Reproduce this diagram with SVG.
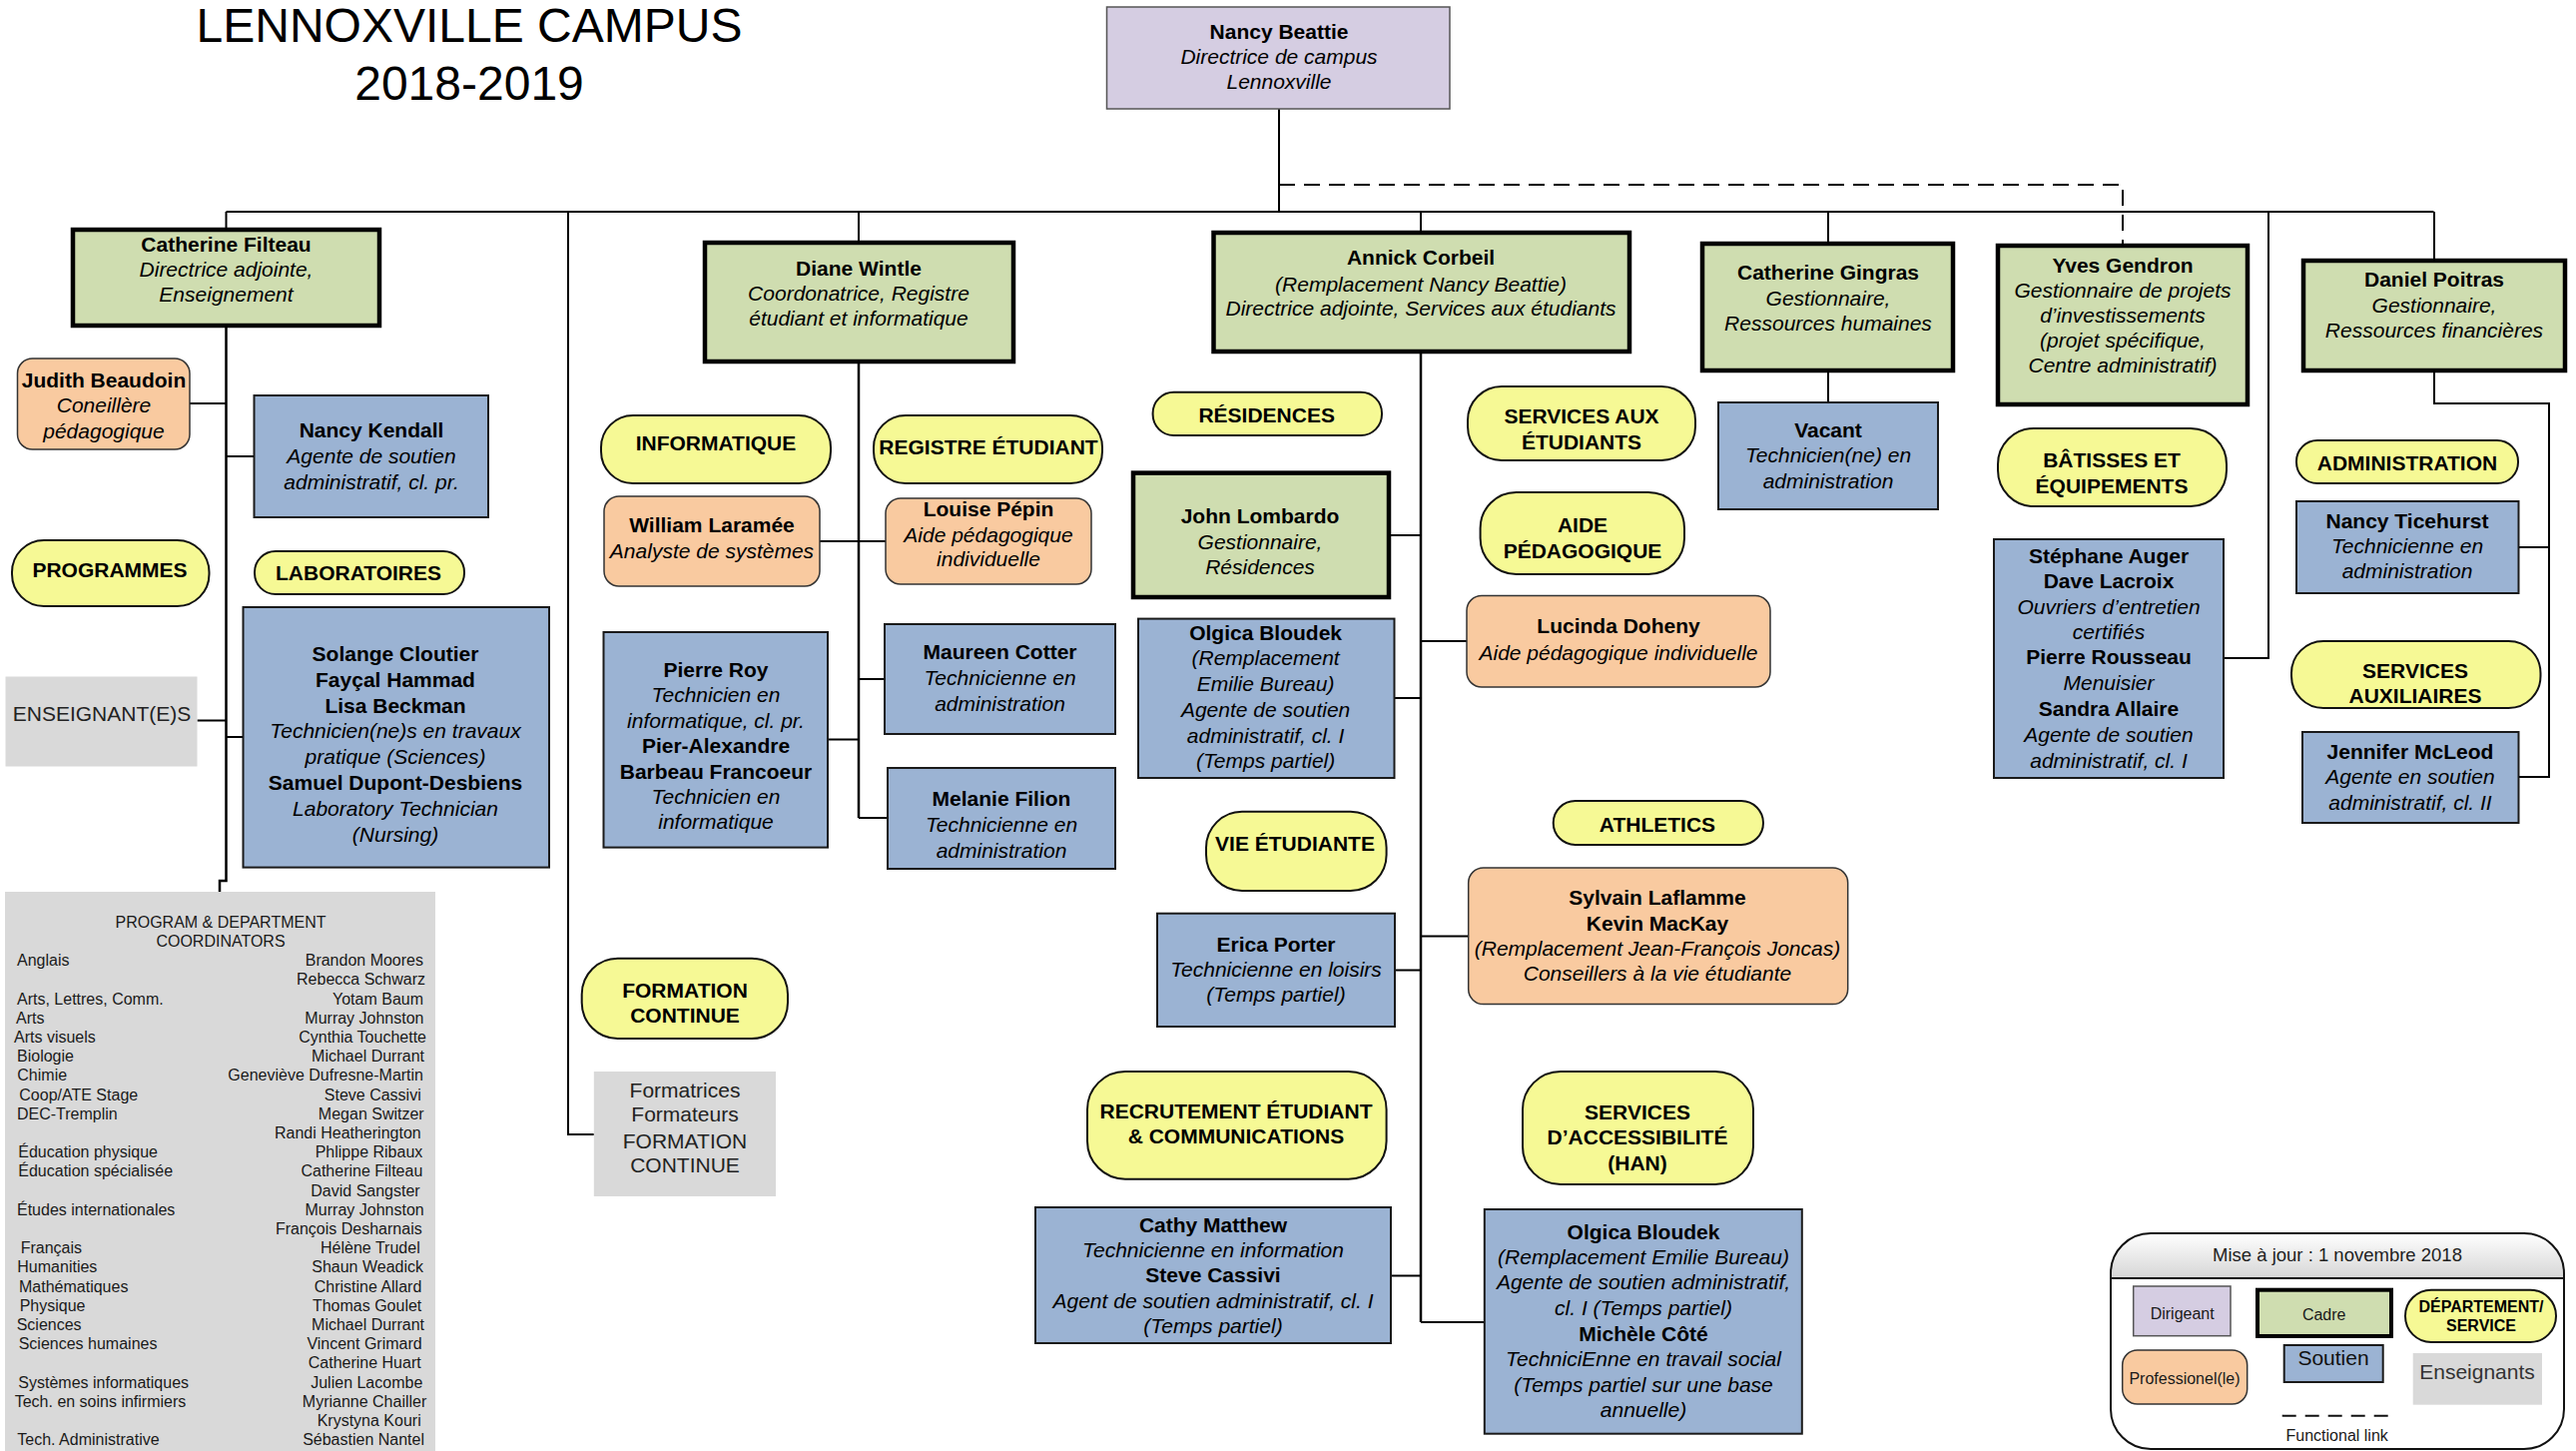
<svg xmlns="http://www.w3.org/2000/svg" width="2580" height="1453" viewBox="0 0 2580 1453">
<defs>
<style>
text{font-family:"Liberation Sans",Arial,sans-serif;font-size:21px;text-anchor:middle;fill:#000}
.b{font-weight:bold}
.i{font-style:italic}
.t{font-size:48px}
.s{font-size:16px;fill:#1a1a1a}
.sl{font-size:16px;fill:#1a1a1a;text-anchor:start}
.sr{font-size:16px;fill:#1a1a1a;text-anchor:end}
.g{fill:#222}
.dir{fill:#d5cde2;stroke:#555;stroke-width:1.5}
.cad{fill:#cfddb0;stroke:#000;stroke-width:4.5}
.sou{fill:#9bb3d3;stroke:#1a1a1a;stroke-width:2}
.pro{fill:#f9caa0;stroke:#333;stroke-width:1.5}
.dep{fill:#f6f995;stroke:#111;stroke-width:2}
.ens{fill:#d9d9d9}
.ln{stroke:#000;stroke-width:2;fill:none}
.lt{stroke:#000;stroke-width:2.5;fill:none}
.dash{stroke:#000;stroke-width:2;fill:none;stroke-dasharray:16 9}
</style>
<linearGradient id="hdr" x1="0" y1="0" x2="0" y2="1">
<stop offset="0" stop-color="#ffffff"/>
<stop offset="1" stop-color="#d6d6d6"/>
</linearGradient>
</defs>
<rect width="2580" height="1453" fill="#fff"/>

<g id="title">
<text class="t" x="470" y="42">LENNOXVILLE CAMPUS</text>
<text class="t" x="470" y="100">2018-2019</text>
</g>

<g id="connectors">
<path class="ln" d="M1281 109V212"/>
<path class="ln" d="M226.5 212H2437.5"/>
<path class="ln" d="M226.5 212V230"/>
<path class="lt" d="M226.5 326V882H220V893"/>
<path class="ln" d="M190 404H226.5"/>
<path class="ln" d="M226.5 457H254.5"/>
<path class="ln" d="M226.5 738H243.5"/>
<path class="ln" d="M197.5 721.5H226.5"/>
<path class="ln" d="M569 212V1136H594.8"/>
<path class="ln" d="M860 212V243"/>
<path class="lt" d="M860 362V819"/>
<path class="ln" d="M821 542H887"/>
<path class="ln" d="M829 740.5H860"/>
<path class="ln" d="M860 680H886"/>
<path class="ln" d="M860 819H889"/>
<path class="ln" d="M1423 212V233"/>
<path class="lt" d="M1423 352V1324"/>
<path class="ln" d="M1391 536H1423"/>
<path class="ln" d="M1396.5 699H1423"/>
<path class="ln" d="M1397 971.5H1423"/>
<path class="ln" d="M1393 1277.5H1423"/>
<path class="ln" d="M1423 642H1469"/>
<path class="ln" d="M1423 937.4H1470.7"/>
<path class="ln" d="M1423 1324H1486.8"/>
<path class="ln" d="M1831 212V244"/>
<path class="ln" d="M1831 371V403"/>
<path class="ln" d="M2272 212V659H2227"/>
<path class="ln" d="M2438 212V261"/>
<path class="ln" d="M2438 371V404H2553V778H2522.5"/>
<path class="ln" d="M2553 548H2522.5"/>
<path class="dash" d="M1281 185H2126V246"/>
</g>

<g id="nancy-beattie">
<rect class="dir" x="1108.5" y="7" width="343.5" height="102"/>
<text x="1281"><tspan class="b" x="1281" y="39">Nancy Beattie</tspan><tspan class="i" x="1281" y="64">Directrice de campus</tspan><tspan class="i" x="1281" y="89">Lennoxville</tspan></text>
</g>

<g id="catherine-filteau">
<rect class="cad" x="73" y="230" width="307" height="96"/>
<text><tspan class="b" x="226.5" y="252">Catherine Filteau</tspan><tspan class="i" x="226.5" y="277">Directrice adjointe,</tspan><tspan class="i" x="226.5" y="302">Enseignement</tspan></text>
</g>

<g id="diane-wintle">
<rect class="cad" x="706" y="243" width="309" height="119"/>
<text><tspan class="b" x="860" y="276">Diane Wintle</tspan><tspan class="i" x="860" y="301">Coordonatrice, Registre</tspan><tspan class="i" x="860" y="326">étudiant et informatique</tspan></text>
</g>

<g id="annick-corbeil">
<rect class="cad" x="1215.5" y="233" width="416.5" height="119"/>
<text><tspan class="b" x="1423" y="265">Annick Corbeil</tspan><tspan class="i" x="1423" y="292">(Remplacement Nancy Beattie)</tspan><tspan class="i" x="1423" y="316">Directrice adjointe, Services aux étudiants</tspan></text>
</g>

<g id="catherine-gingras">
<rect class="cad" x="1705" y="244" width="251" height="127"/>
<text><tspan class="b" x="1831" y="280">Catherine Gingras</tspan><tspan class="i" x="1831" y="306">Gestionnaire,</tspan><tspan class="i" x="1831" y="331">Ressources humaines</tspan></text>
</g>

<g id="yves-gendron">
<rect class="cad" x="2001" y="246" width="250" height="159"/>
<text><tspan class="b" x="2126" y="273">Yves Gendron</tspan><tspan class="i" x="2126" y="298">Gestionnaire de projets</tspan><tspan class="i" x="2126" y="323">d’investissements</tspan><tspan class="i" x="2126" y="348">(projet spécifique,</tspan><tspan class="i" x="2126" y="373">Centre administratif)</tspan></text>
</g>

<g id="daniel-poitras">
<rect class="cad" x="2307" y="261" width="262" height="110"/>
<text><tspan class="b" x="2438" y="287">Daniel Poitras</tspan><tspan class="i" x="2438" y="313">Gestionnaire,</tspan><tspan class="i" x="2438" y="338">Ressources financières</tspan></text>
</g>

<g id="judith-beaudoin">
<rect class="pro" x="17.5" y="359" width="172.5" height="91" rx="15"/>
<text><tspan class="b" x="104" y="388">Judith Beaudoin</tspan><tspan class="i" x="104" y="413">Coneillère</tspan><tspan class="i" x="104" y="439">pédagogique</tspan></text>
</g>

<g id="nancy-kendall">
<rect class="sou" x="254.5" y="396" width="234.5" height="122"/>
<text><tspan class="b" x="372" y="438">Nancy Kendall</tspan><tspan class="i" x="372" y="464">Agente de soutien</tspan><tspan class="i" x="372" y="490">administratif, cl. pr.</tspan></text>
</g>

<g id="programmes">
<rect class="dep" x="12" y="541" width="197.5" height="66" rx="32"/>
<text class="b" x="110" y="578">PROGRAMMES</text>
</g>

<g id="laboratoires">
<rect class="dep" x="255" y="552" width="210" height="43" rx="21"/>
<text class="b" x="359" y="581">LABORATOIRES</text>
</g>

<g id="laboratoires-staff">
<rect class="sou" x="243.5" y="608" width="306.5" height="260.6"/>
<text><tspan class="b" x="396" y="662">Solange Cloutier</tspan><tspan class="b" x="396" y="688">Fayçal Hammad</tspan><tspan class="b" x="396" y="714">Lisa Beckman</tspan><tspan class="i" x="396" y="739">Technicien(ne)s en travaux</tspan><tspan class="i" x="396" y="765">pratique (Sciences)</tspan><tspan class="b" x="396" y="791">Samuel Dupont-Desbiens</tspan><tspan class="i" x="396" y="817">Laboratory Technician</tspan><tspan class="i" x="396" y="843">(Nursing)</tspan></text>
</g>

<g id="enseignants">
<rect class="ens" x="5.5" y="677.5" width="192" height="90"/>
<text class="g" x="102" y="722">ENSEIGNANT(E)S</text>
</g>

<g id="program-coordinators">
<rect class="ens" x="5" y="893" width="431" height="560"/>
<text class="s" x="221" y="929">PROGRAM &amp; DEPARTMENT</text>
<text class="s" x="221" y="948">COORDINATORS</text>
<text class="sl" x="17" y="967">Anglais</text>
<text class="sr" x="424" y="967">Brandon Moores</text>
<text class="sr" x="426" y="986">Rebecca Schwarz</text>
<text class="sl" x="17" y="1006">Arts, Lettres, Comm.</text>
<text class="sr" x="424" y="1006">Yotam Baum</text>
<text class="sl" x="16" y="1025">Arts</text>
<text class="sr" x="424.5" y="1025">Murray Johnston</text>
<text class="sl" x="14" y="1044">Arts visuels</text>
<text class="sr" x="427" y="1044">Cynthia Touchette</text>
<text class="sl" x="17" y="1063">Biologie</text>
<text class="sr" x="425" y="1063">Michael Durrant</text>
<text class="sl" x="17.3" y="1082">Chimie</text>
<text class="sr" x="424" y="1082">Geneviève Dufresne-Martin</text>
<text class="sl" x="19.3" y="1102">Coop/ATE Stage</text>
<text class="sr" x="421.7" y="1102">Steve Cassivi</text>
<text class="sl" x="17" y="1121">DEC-Tremplin</text>
<text class="sr" x="424.7" y="1121">Megan Switzer</text>
<text class="sr" x="421.7" y="1140">Randi Heatherington</text>
<text class="sl" x="18.3" y="1159">Éducation physique</text>
<text class="sr" x="423.3" y="1159">Phlippe Ribaux</text>
<text class="sl" x="18.3" y="1178">Éducation spécialisée</text>
<text class="sr" x="423.3" y="1178">Catherine Filteau</text>
<text class="sr" x="420.7" y="1198">David Sangster</text>
<text class="sl" x="17" y="1217">Études internationales</text>
<text class="sr" x="424.7" y="1217">Murray Johnston</text>
<text class="sr" x="422.7" y="1236">François Desharnais</text>
<text class="sl" x="20.7" y="1255">Français</text>
<text class="sr" x="420.7" y="1255">Hélène Trudel</text>
<text class="sl" x="17.3" y="1274">Humanities</text>
<text class="sr" x="424" y="1274">Shaun Weadick</text>
<text class="sl" x="19" y="1294">Mathématiques</text>
<text class="sr" x="422.3" y="1294">Christine Allard</text>
<text class="sl" x="19.7" y="1313">Physique</text>
<text class="sr" x="422.3" y="1313">Thomas Goulet</text>
<text class="sl" x="16.7" y="1332">Sciences</text>
<text class="sr" x="425" y="1332">Michael Durrant</text>
<text class="sl" x="18.7" y="1351">Sciences humaines</text>
<text class="sr" x="422.7" y="1351">Vincent Grimard</text>
<text class="sr" x="421.7" y="1370">Catherine Huart</text>
<text class="sl" x="18.3" y="1390">Systèmes informatiques</text>
<text class="sr" x="423.3" y="1390">Julien Lacombe</text>
<text class="sl" x="14.7" y="1409">Tech. en soins infirmiers</text>
<text class="sr" x="427.3" y="1409">Myrianne Chailler</text>
<text class="sr" x="421.7" y="1428">Krystyna Kouri</text>
<text class="sl" x="17.3" y="1447">Tech. Administrative</text>
<text class="sr" x="425" y="1447">Sébastien Nantel</text>
</g>

<g id="formation-continue">
<rect class="dep" x="582.7" y="959.7" width="206.3" height="80.3" rx="36"/>
<text class="b"><tspan x="686" y="999">FORMATION</tspan><tspan x="686" y="1024.4">CONTINUE</tspan></text>
</g>

<g id="formatrices">
<rect class="ens" x="594.8" y="1073" width="182.2" height="125"/>
<text class="g"><tspan x="686" y="1098.6">Formatrices</tspan><tspan x="686" y="1123">Formateurs</tspan><tspan x="686" y="1149.7">FORMATION</tspan><tspan x="686" y="1174">CONTINUE</tspan></text>
</g>

<g id="informatique">
<rect class="dep" x="602" y="416" width="230" height="68" rx="32"/>
<text class="b" x="717" y="451">INFORMATIQUE</text>
</g>

<g id="william-laramee">
<rect class="pro" x="605" y="497" width="216" height="90" rx="15"/>
<text><tspan class="b" x="713" y="533">William Laramée</tspan><tspan class="i" x="713" y="559">Analyste de systèmes</tspan></text>
</g>

<g id="pierre-roy">
<rect class="sou" x="604.5" y="633" width="224.5" height="215.6"/>
<text><tspan class="b" x="717" y="677.5">Pierre Roy</tspan><tspan class="i" x="717" y="703">Technicien en</tspan><tspan class="i" x="717" y="728.5">informatique, cl. pr.</tspan><tspan class="b" x="717" y="754">Pier-Alexandre</tspan><tspan class="b" x="717" y="779.5">Barbeau Francoeur</tspan><tspan class="i" x="717" y="805">Technicien en</tspan><tspan class="i" x="717" y="830">informatique</tspan></text>
</g>

<g id="registre-etudiant">
<rect class="dep" x="875" y="416" width="229" height="68" rx="32"/>
<text class="b" x="990" y="455">REGISTRE ÉTUDIANT</text>
</g>

<g id="louise-pepin">
<rect class="pro" x="887" y="499" width="206" height="86" rx="15"/>
<text><tspan class="b" x="990" y="517">Louise Pépin</tspan><tspan class="i" x="990" y="543">Aide pédagogique</tspan><tspan class="i" x="990" y="567">individuelle</tspan></text>
</g>

<g id="maureen-cotter">
<rect class="sou" x="886" y="625" width="231" height="110"/>
<text><tspan class="b" x="1001.5" y="660">Maureen Cotter</tspan><tspan class="i" x="1001.5" y="686">Technicienne en</tspan><tspan class="i" x="1001.5" y="712">administration</tspan></text>
</g>

<g id="melanie-filion">
<rect class="sou" x="889" y="769" width="228" height="101"/>
<text><tspan class="b" x="1003" y="807">Melanie Filion</tspan><tspan class="i" x="1003" y="833">Technicienne en</tspan><tspan class="i" x="1003" y="859">administration</tspan></text>
</g>

<g id="residences">
<rect class="dep" x="1154.6" y="392.7" width="229.4" height="43.3" rx="21"/>
<text class="b" x="1268.7" y="422.6">RÉSIDENCES</text>
</g>

<g id="john-lombardo">
<rect class="cad" x="1135" y="473.6" width="256" height="124.4"/>
<text><tspan class="b" x="1262" y="524">John Lombardo</tspan><tspan class="i" x="1262" y="550">Gestionnaire,</tspan><tspan class="i" x="1262" y="575">Résidences</tspan></text>
</g>

<g id="olgica-bloudek-1">
<rect class="sou" x="1140" y="619.6" width="256.5" height="159.4"/>
<text><tspan class="b" x="1267.6" y="641">Olgica Bloudek</tspan><tspan class="i" x="1267.6" y="666">(Remplacement</tspan><tspan class="i" x="1267.6" y="692">Emilie Bureau)</tspan><tspan class="i" x="1267.6" y="718">Agente de soutien</tspan><tspan class="i" x="1267.6" y="744">administratif, cl. I</tspan><tspan class="i" x="1267.6" y="769">(Temps partiel)</tspan></text>
</g>

<g id="vie-etudiante">
<rect class="dep" x="1208" y="812.8" width="180.6" height="79.2" rx="36"/>
<text class="b" x="1297" y="852.4">VIE ÉTUDIANTE</text>
</g>

<g id="erica-porter">
<rect class="sou" x="1159" y="914.7" width="238" height="113.3"/>
<text><tspan class="b" x="1278" y="952.6">Erica Porter</tspan><tspan class="i" x="1278" y="977.8">Technicienne en loisirs</tspan><tspan class="i" x="1278" y="1003">(Temps partiel)</tspan></text>
</g>

<g id="recrutement">
<rect class="dep" x="1089" y="1073" width="299.6" height="107.7" rx="38"/>
<text class="b"><tspan x="1238" y="1120">RECRUTEMENT ÉTUDIANT</tspan><tspan x="1238" y="1144.5">&amp; COMMUNICATIONS</tspan></text>
</g>

<g id="cathy-matthew">
<rect class="sou" x="1037" y="1209" width="356" height="136"/>
<text><tspan class="b" x="1215" y="1234">Cathy Matthew</tspan><tspan class="i" x="1215" y="1259">Technicienne en information</tspan><tspan class="b" x="1215" y="1284">Steve Cassivi</tspan><tspan class="i" x="1215" y="1309.5">Agent de soutien administratif, cl. I</tspan><tspan class="i" x="1215" y="1335">(Temps partiel)</tspan></text>
</g>

<g id="services-aux-etudiants">
<rect class="dep" x="1470" y="387" width="228" height="74" rx="34"/>
<text class="b"><tspan x="1584" y="424">SERVICES AUX</tspan><tspan x="1584" y="450">ÉTUDIANTS</tspan></text>
</g>

<g id="aide-pedagogique">
<rect class="dep" x="1482.6" y="493" width="204.4" height="82" rx="36"/>
<text class="b"><tspan x="1585" y="533">AIDE</tspan><tspan x="1585" y="558.7">PÉDAGOGIQUE</tspan></text>
</g>

<g id="lucinda-doheny">
<rect class="pro" x="1469" y="596.5" width="304" height="91.5" rx="15"/>
<text><tspan class="b" x="1621" y="634.4">Lucinda Doheny</tspan><tspan class="i" x="1621" y="661">Aide pédagogique individuelle</tspan></text>
</g>

<g id="athletics">
<rect class="dep" x="1555.7" y="802" width="210.3" height="44" rx="22"/>
<text class="b" x="1660" y="833">ATHLETICS</text>
</g>

<g id="sylvain-laflamme">
<rect class="pro" x="1470.7" y="869" width="380" height="136.6" rx="15"/>
<text><tspan class="b" x="1660" y="906">Sylvain Laflamme</tspan><tspan class="b" x="1660" y="931.5">Kevin MacKay</tspan><tspan class="i" x="1660" y="957">(Remplacement Jean-François Joncas)</tspan><tspan class="i" x="1660" y="982">Conseillers à la vie étudiante</tspan></text>
</g>

<g id="services-accessibilite">
<rect class="dep" x="1525" y="1073" width="231" height="113" rx="38"/>
<text class="b"><tspan x="1640" y="1121">SERVICES</tspan><tspan x="1640" y="1146">D’ACCESSIBILITÉ</tspan><tspan x="1640" y="1172">(HAN)</tspan></text>
</g>

<g id="olgica-bloudek-2">
<rect class="sou" x="1486.8" y="1211" width="318" height="224.7"/>
<text><tspan class="b" x="1646" y="1241">Olgica Bloudek</tspan><tspan class="i" x="1646" y="1266">(Remplacement Emilie Bureau)</tspan><tspan class="i" x="1646" y="1291.4">Agente de soutien administratif,</tspan><tspan class="i" x="1646" y="1316.6">cl. I (Temps partiel)</tspan><tspan class="b" x="1646" y="1343">Michèle Côté</tspan><tspan class="i" x="1646" y="1368">TechniciEnne en travail social</tspan><tspan class="i" x="1646" y="1393.6">(Temps partiel sur une base</tspan><tspan class="i" x="1646" y="1419">annuelle)</tspan></text>
</g>

<g id="vacant">
<rect class="sou" x="1721" y="403" width="220" height="107"/>
<text><tspan class="b" x="1831" y="438">Vacant</tspan><tspan class="i" x="1831" y="463">Technicien(ne) en</tspan><tspan class="i" x="1831" y="489">administration</tspan></text>
</g>

<g id="batisses-equipements">
<rect class="dep" x="2001" y="429" width="229" height="78" rx="36"/>
<text class="b"><tspan x="2115" y="468">BÂTISSES ET</tspan><tspan x="2115" y="494">ÉQUIPEMENTS</tspan></text>
</g>

<g id="stephane-auger">
<rect class="sou" x="1997" y="540" width="230" height="239"/>
<text><tspan class="b" x="2112" y="564">Stéphane Auger</tspan><tspan class="b" x="2112" y="589">Dave Lacroix</tspan><tspan class="i" x="2112" y="615">Ouvriers d’entretien</tspan><tspan class="i" x="2112" y="640">certifiés</tspan><tspan class="b" x="2112" y="665">Pierre Rousseau</tspan><tspan class="i" x="2112" y="691">Menuisier</tspan><tspan class="b" x="2112" y="717">Sandra Allaire</tspan><tspan class="i" x="2112" y="743">Agente de soutien</tspan><tspan class="i" x="2112" y="769">administratif, cl. I</tspan></text>
</g>

<g id="administration">
<rect class="dep" x="2300" y="441" width="222" height="43" rx="21"/>
<text class="b" x="2411" y="471">ADMINISTRATION</text>
</g>

<g id="nancy-ticehurst">
<rect class="sou" x="2300" y="502" width="222.5" height="92"/>
<text><tspan class="b" x="2411" y="529">Nancy Ticehurst</tspan><tspan class="i" x="2411" y="554">Technicienne en</tspan><tspan class="i" x="2411" y="579">administration</tspan></text>
</g>

<g id="services-auxiliaires">
<rect class="dep" x="2295" y="642" width="249.5" height="67" rx="32"/>
<text class="b"><tspan x="2419" y="679">SERVICES</tspan><tspan x="2419" y="704">AUXILIAIRES</tspan></text>
</g>

<g id="jennifer-mcleod">
<rect class="sou" x="2306" y="733" width="216.5" height="91"/>
<text><tspan class="b" x="2414" y="760">Jennifer McLeod</tspan><tspan class="i" x="2414" y="785">Agente en soutien</tspan><tspan class="i" x="2414" y="811">administratif, cl. II</tspan></text>
</g>

<g id="legend">
<rect x="2114" y="1235" width="454" height="216" rx="40" fill="#fff"/>
<path d="M2114 1280V1275A40 40 0 0 1 2154 1235H2528A40 40 0 0 1 2568 1275V1280Z" fill="url(#hdr)"/>
<path d="M2114 1280H2568" stroke="#111" stroke-width="2"/>
<rect x="2114" y="1235" width="454" height="216" rx="40" fill="none" stroke="#111" stroke-width="2"/>
<text x="2341" y="1263" style="font-size:18.5px;fill:#222">Mise à jour : 1 novembre 2018</text>
<rect class="dir" x="2136.7" y="1288" width="97.3" height="49.7"/>
<text class="s" x="2185.7" y="1320.7">Dirigeant</text>
<rect class="cad" x="2261" y="1291.7" width="134" height="46.3" style="stroke-width:4"/>
<text class="s" x="2327.7" y="1321.7">Cadre</text>
<rect class="dep" x="2409" y="1291.7" width="151" height="52.3" rx="26"/>
<text class="b" style="font-size:16px"><tspan x="2485" y="1314">DÉPARTEMENT/</tspan><tspan x="2485" y="1333">SERVICE</tspan></text>
<rect class="pro" x="2125.7" y="1352" width="125" height="54" rx="15"/>
<text class="s" x="2188" y="1385.7">Professionel(le)</text>
<rect class="sou" x="2287.7" y="1347" width="99" height="37"/>
<text x="2337" y="1366.7" style="fill:#111">Soutien</text>
<rect class="ens" x="2416.7" y="1355" width="129.3" height="51.7"/>
<text x="2481" y="1381" style="fill:#333">Enseignants</text>
<path d="M2285.7 1417.7H2392" stroke="#111" stroke-width="2" stroke-dasharray="14 9"/>
<text class="s" x="2340.7" y="1442.7">Functional link</text>
</g>
</svg>
